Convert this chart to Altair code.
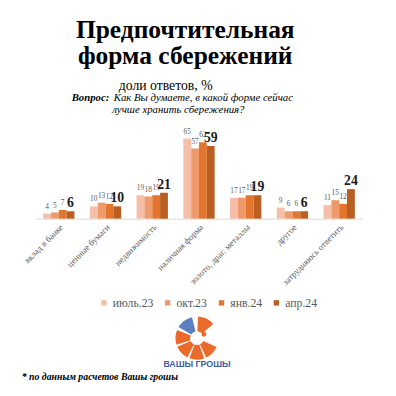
import altair as alt
import pandas as pd

categories = ["вклад в банке", "ценные бумаги", "недвижимость", "наличная форма",
              "золото, драг. металлы", "другое", "затрудняюсь ответить"]
series = ["июль.23", "окт.23", "янв.24", "апр.24"]
v_jul23 = [4, 10, 19, 65, 17, 9, 11]
v_oct23 = [5, 13, 18, 57, 17, 6, 15]
v_jan24 = [7, 12, 19, 62, 19, 6, 12]
v_apr24 = [6, 10, 21, 59, 19, 6, 24]
colors = ["#f5bea8", "#ee9a6c", "#e2762f", "#bb5e22"]

SERIF = "Liberation Serif"

rows = []
for s, vals in zip(series, [v_jul23, v_oct23, v_jan24, v_apr24]):
    for c, v in zip(categories, vals):
        rows.append({"cat": c, "ser": s, "val": v})
df = pd.DataFrame(rows)

W, H = 334, 88
OX, OY = 36, 131  # page position of plot origin

x = alt.X("cat:N", sort=categories, title=None,
          scale=alt.Scale(paddingInner=0.33, paddingOuter=0.165),
          axis=alt.Axis(labelAngle=-45, labelFont=SERIF, labelFontSize=9,
                        labelColor="#595959", ticks=False, domainColor="#d9d9d9",
                        labelPadding=4, labelLimit=200))
xo = alt.XOffset("ser:N", sort=series)
y = alt.Y("val:Q", scale=alt.Scale(domain=[0, 70]), axis=None)

bars = alt.Chart(df).mark_bar().encode(
    x=x, xOffset=xo, y=y,
    color=alt.Color("ser:N", sort=series,
                    scale=alt.Scale(domain=series, range=colors),
                    legend=alt.Legend(title=None, orient="none", direction="horizontal",
                                      legendX=64, legendY=168, symbolType="square",
                                      symbolSize=30, symbolStrokeWidth=0,
                                      labelFont=SERIF, labelFontSize=12,
                                      labelFontWeight="normal",
                                      labelColor="#595959", columnPadding=8,
                                      labelOffset=3))
)

lbl_small = alt.Chart(df).transform_filter(alt.datum.ser != "апр.24").mark_text(
    font=SERIF, fontSize=7.5, color="#595959", baseline="bottom", dy=-3
).encode(x=x, xOffset=xo, y=y, text="val:Q")

lbl_big = alt.Chart(df).transform_filter(alt.datum.ser == "апр.24").mark_text(
    font=SERIF, fontSize=14, fontWeight="bold", color="#1a1a1a",
    baseline="bottom", dy=-1
).encode(x=x, xOffset=xo, y=y, text="val:Q")


def txt(s, px, py, **kw):
    return alt.Chart(pd.DataFrame({"t": [s]})).mark_text(**kw).encode(
        x=alt.value(px - OX), y=alt.value(py - OY), text="t:N")


title1 = txt("Предпочтительная", 189, 35, font=SERIF, fontSize=26,
             fontWeight="bold", color="#000000", baseline="alphabetic", align="center")
title2 = txt("форма сбережений", 189, 61, font=SERIF, fontSize=26,
             fontWeight="bold", color="#000000", baseline="alphabetic", align="center")
sub1 = txt("доли ответов, %", 169, 88, font=SERIF, fontSize=14,
           color="#000000", baseline="alphabetic", align="center")
q1 = txt("Вопрос:", 73, 99, font=SERIF, fontSize=11, fontWeight="bold",
         fontStyle="italic", color="#000000", baseline="alphabetic", align="left")
q2 = txt("Как Вы думаете, в какой форме сейчас", 116, 99, font=SERIF,
         fontSize=11, fontStyle="italic", color="#000000", baseline="alphabetic", align="left")
q3 = txt("лучше хранить сбережения?", 182, 111, font=SERIF, fontSize=11,
         fontStyle="italic", color="#000000", baseline="alphabetic", align="center")
foot = txt("* по данным расчетов Вашы грошы", 22, 384, font=SERIF,
           fontSize=10, fontWeight="bold", fontStyle="italic", color="#000000",
           baseline="alphabetic", align="left")
brand = txt("ВАШЫ ГРОШЫ", 201, 370, font="Liberation Sans", fontSize=9,
            fontWeight="bold", color="#3a5ea6", baseline="alphabetic", align="center")

# logo segments (radians, 0 = 12 o'clock, clockwise)
seg_t0 = [0.05, 2.0, 2.8, 3.6, 4.4, 5.25]
seg_t1 = [0.85, 2.7, 3.5, 4.3, 5.1, 6.05]
seg_col = ["#ea6a2c", "#ea6a2c", "#ea6a2c", "#ea6a2c", "#ea6a2c", "#5b7fc0"]
logo_df = pd.DataFrame({"t0": seg_t0, "t1": seg_t1, "c": seg_col})
logo = alt.Chart(logo_df).mark_arc(innerRadius=7, outerRadius=22).encode(
    x=alt.value(201 - OX), y=alt.value(341 - OY),
    theta=alt.Theta("t0:Q", scale=None), theta2="t1:Q",
    color=alt.Color("c:N", scale=None, legend=None))
dot = alt.Chart(pd.DataFrame({"d": [1]})).mark_point(
    filled=True, shape="circle", size=25, color="#ea6a2c", opacity=1).encode(
    x=alt.value(208 - OX), y=alt.value(337 - OY))

chart = alt.layer(bars, lbl_small, lbl_big, title1, title2, sub1, q1, q2, q3,
                  foot, brand, logo, dot).resolve_scale(color="independent").properties(
    width=W, height=H,
    autosize=alt.AutoSizeParams(type="none"),
    padding={"left": 28, "top": 123, "right": 26, "bottom": 177},
    background="white"
).configure_view(stroke=None)

chart.save("out.html", embed_options={"renderer": "svg", "actions": False})
